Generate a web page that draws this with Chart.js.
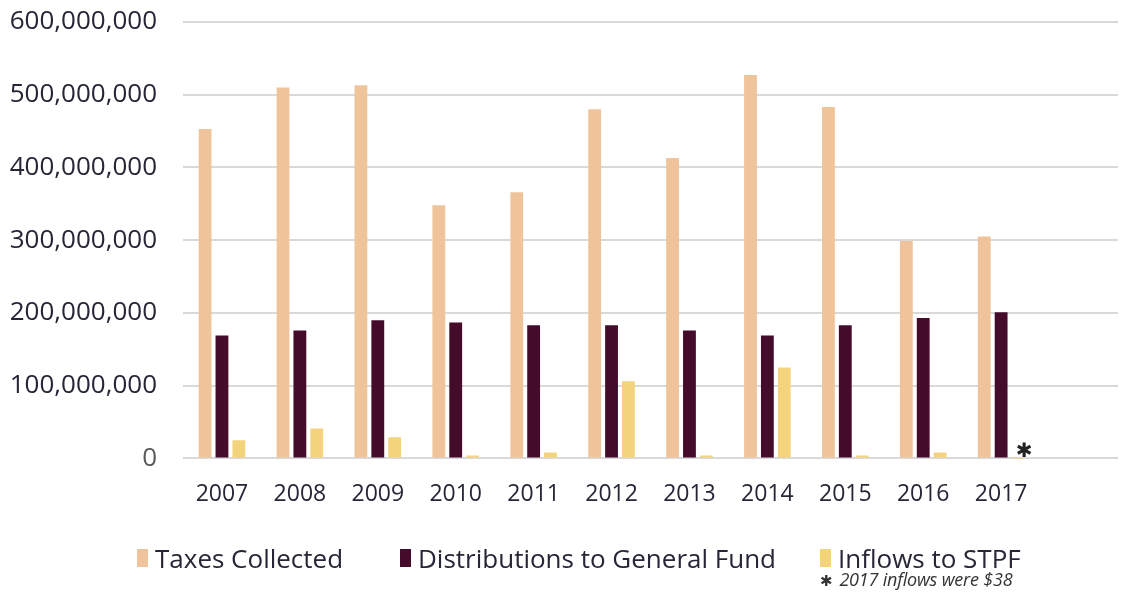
<!DOCTYPE html>
<html lang="en">
<head>
  <meta charset="UTF-8" />
  <title>Taxes, Distributions and Inflows</title>
  <script src="https://cdn.jsdelivr.net/npm/chart.js"></script>
  <style>
    html, body { margin: 0; padding: 0; background: #fff; }
    #wrap { position: relative; width: 1121px; height: 592px; }
    #legend { position: absolute; left: 0; top: 541px; width: 1121px; height: 34px; }
    .item { position: absolute; top: 0; display: flex; align-items: center; height: 34px;
      font-family: "Open Sans", sans-serif; font-size: 26px; color: #262637; white-space: nowrap; }
    .box { width: 11px; height: 18px; margin-right: 7px; }
    #note {
      position: absolute; left: 820px; top: 567px;
      font-family: "Open Sans", sans-serif;
      font-style: italic; font-size: 18px; letter-spacing: -0.2px; color: #333; white-space: nowrap;
    }
    #note b { font-style: normal; font-family: "DejaVu Sans"; font-size: 15px; margin-right: 7px; }
  </style>
</head>
<body>
  <div id="wrap">
    <canvas id="chart" width="1121" height="592"></canvas>
    <div id="legend"></div>
    <div id="note"><b>&#10033;</b>2017 inflows were $38</div>
  </div>

  <script>
    // years, last slot left empty like the original
    const years = ['2007', '2008', '2009', '2010', '2011', '2012', '2013', '2014', '2015', '2016', '2017', ''];
    const seriesNames = ['Taxes Collected', 'Distributions to General Fund', 'Inflows to STPF'];
    const taxesCollected = [453e6, 510e6, 513e6, 348e6, 366e6, 480e6, 413e6, 527e6, 483e6, 299e6, 305e6, null];
    const distributions = [169e6, 176e6, 190e6, 187e6, 183e6, 183e6, 176e6, 169e6, 183e6, 193e6, 201e6, null];
    const inflows = [25e6, 41e6, 29e6, 4e6, 8e6, 106e6, 4e6, 125e6, 4e6, 8e6, 38, null];
    const colors = ['#F0C49A', '#440C2A', '#F3D47C'];
    const legendLeft = [137, 400, 820];

    // legend row
    const legend = document.getElementById('legend');
    seriesNames.forEach((name, i) => {
      legend.innerHTML += `<div class="item" style="left:${legendLeft[i]}px">
        <div class="box" style="background:${colors[i]}"></div>${name}</div>`;
    });

    // little star next to the 2017 bars
    const starPlugin = {
      id: 'star',
      afterDatasetsDraw(chart) {
        const bar = chart.getDatasetMeta(2).data[10];
        const ctx = chart.ctx;
        ctx.save();
        ctx.font = '20px "DejaVu Sans"';
        ctx.fillStyle = '#222';
        ctx.textAlign = 'center';
        ctx.textBaseline = 'bottom';
        ctx.fillText('\u2731', bar.x + 6, chart.scales.y.getPixelForValue(0) + 3);
        ctx.restore();
      }
    };

    new Chart(document.getElementById('chart'), {
      type: 'bar',
      data: {
        labels: years,
        datasets: seriesNames.map((name, i) => ({
          label: name,
          data: [taxesCollected, distributions, inflows][i],
          backgroundColor: colors[i]
        }))
      },
      options: {
        responsive: false,
        animation: false,
        categoryPercentage: 0.65,
        barPercentage: 0.76,
        layout: { padding: { top: 22, right: 3, bottom: 70, left: 0 } },
        plugins: {
          tooltip: { enabled: false },
          legend: { display: false }
        },
        scales: {
          x: {
            grid: { display: false },
            border: { display: false },
            ticks: {
              color: '#262637',
              padding: 14,
              font: { family: '"Open Sans", sans-serif', size: 23 }
            }
          },
          y: {
            min: 0,
            max: 600e6,
            afterFit(scale) { scale.width = 183; scale.paddingTop = 0; },
            grid: { color: '#D9D9D9', lineWidth: 2, drawTicks: false },
            border: { display: false },
            ticks: {
              stepSize: 100e6,
              padding: 26,
              color: (c) => c.tick.value === 0 ? '#595959' : '#262637',
              font: { family: '"Open Sans", sans-serif', size: 26 },
              callback: (v) => v.toLocaleString('en-US')
            }
          }
        }
      },
      plugins: [starPlugin]
    });
  </script>
</body>
</html>
